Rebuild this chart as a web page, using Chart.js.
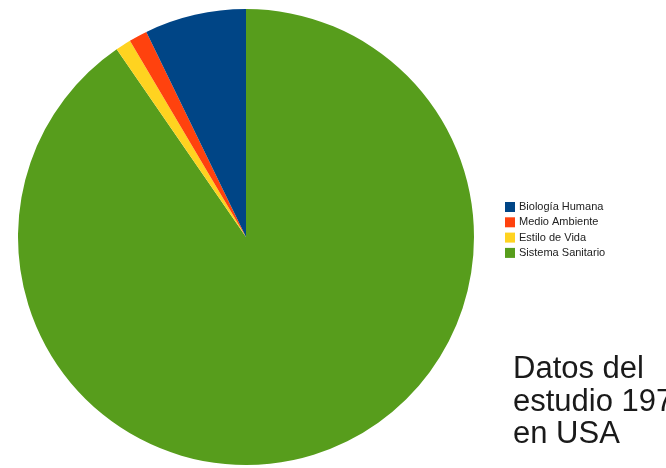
<!DOCTYPE html>
<html>
<head>
<meta charset="utf-8">
<script src="https://cdn.jsdelivr.net/npm/chart.js@4"></script>
<style>
  html, body { margin: 0; padding: 0; background: #fff; }
  #wrap { position: relative; width: 666px; height: 468px; }
</style>
</head>
<body>
<div id="wrap"><canvas id="pie" width="666" height="468"></canvas></div>
<script>
// Datos (porcentaje del gasto)
const labels = ['Biología Humana', 'Medio Ambiente', 'Estilo de Vida', 'Sistema Sanitario'];
const values = [7.2, 1.3, 1.1, 90.4];
const colors = ['#004586', '#ff420e', '#ffd320', '#579d1c'];
const noteLines = ['Datos del', 'estudio 1976', 'en USA'];

// the original pie runs counter-clockwise, so feed the slices in reverse
const pieLabels = labels.slice().reverse();
const pieValues = values.slice().reverse();
const pieColors = colors.slice().reverse();

// legend + note drawn on the canvas, to the right of the pie
const sidePlugin = {
    id: 'side',
    afterDraw(chart) {
        const ctx = chart.ctx;
        ctx.save();
        ctx.font = '11px "Liberation Sans", Arial, sans-serif';
        ctx.textBaseline = 'middle';
        for (let i = 0; i < labels.length; i++) {
            let y = 207 + i * 15.3;
            ctx.fillStyle = colors[i];
            ctx.fillRect(505, y - 5, 10, 10);
            ctx.fillStyle = '#222';
            ctx.fillText(labels[i], 519, y);
        }
        ctx.font = '31px "Liberation Sans", Arial, sans-serif';
        ctx.textBaseline = 'alphabetic';
        ctx.fillStyle = '#1a1a1a';
        for (let i = 0; i < noteLines.length; i++) {
            ctx.fillText(noteLines[i], 513, 378 + i * 32.5);
        }
        ctx.restore();
    }
};

new Chart(document.getElementById('pie'), {
    type: 'pie',
    data: {
        labels: pieLabels,
        datasets: [{ data: pieValues, backgroundColor: pieColors, borderWidth: 0 }]
    },
    options: {
        responsive: false,
        animation: false,
        layout: { padding: { left: 17, right: 191, top: 9, bottom: 3 } },
        plugins: { legend: { display: false }, tooltip: { enabled: false } }
    },
    plugins: [sidePlugin]
});
</script>
</body>
</html>
